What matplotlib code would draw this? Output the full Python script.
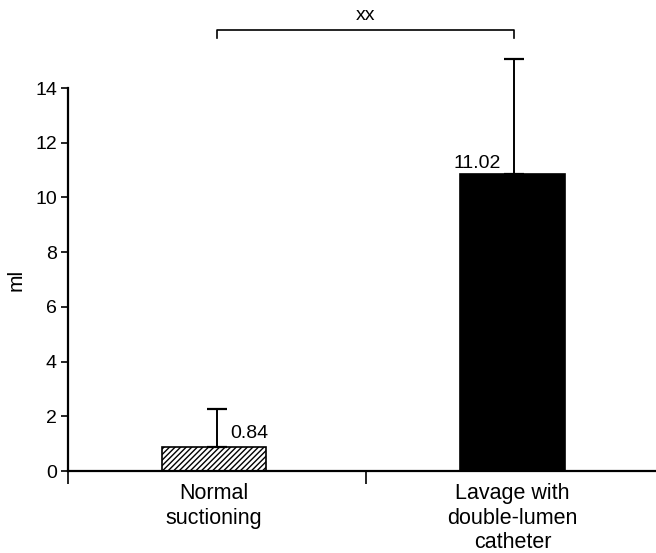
import matplotlib
matplotlib.use("Agg")
import matplotlib.pyplot as plt

categories = ["Normal\nsuctioning", "Lavage with\ndouble-lumen\ncatheter"]
means = [0.88, 10.84]
errors = [1.38, 4.23]
value_labels = ["0.84", "11.02"]
sig_label = "xx"

plt.rcParams['font.family'] = ['Liberation Sans', 'DejaVu Sans']

fig = plt.figure(figsize=(6.56, 5.53), dpi=100)
ax = fig.add_axes([68/656, 1-471/553, 1-68/656, (471-88)/553])

pos = [0.49, 1.49]
w = 0.35
ax.bar(pos[0], means[0], width=w, color='white', edgecolor='black',
       hatch='//////', linewidth=1.2, zorder=2)
ax.bar(pos[1], means[1], width=w, color='black', edgecolor='black',
       linewidth=1.2, zorder=2)
xe = [pos[0] + 0.01, pos[1] + 0.005]
for x, m, e in zip(xe, means, errors):
    ax.errorbar(x, m, yerr=[[0], [e]], fmt='none', ecolor='black',
                elinewidth=1.4, capsize=7, capthick=1.6, clip_on=False, zorder=3)

ax.text(xe[0] + 0.045, means[0] + 0.33, value_labels[0], ha='left', va='baseline', fontsize=14)
ax.text(xe[1] - 0.045, means[1] + 0.25, value_labels[1], ha='right', va='baseline', fontsize=14)

# significance bracket
yb = 16.12
ax.plot([xe[0], xe[0], xe[1], xe[1]], [yb - 0.3, yb, yb, yb - 0.3],
        color='black', lw=1.2, clip_on=False)
ax.text((xe[0] + xe[1]) / 2, 16.5, sig_label, ha='center', va='baseline', fontsize=14)

ax.set_xlim(0, 1.97)
ax.set_ylim(0, 14)
ax.set_yticks(range(0, 15, 2))
ax.set_xticks([0, 1])
ax.set_xticklabels(['', ''])
ax.tick_params(axis='y', direction='out', length=5, width=1.2, labelsize=14, pad=3)
ax.tick_params(axis='x', direction='out', length=9, width=1.2)
for x, lab in zip(pos, categories):
    ax.text(x, -0.45, lab, ha='center', va='top', fontsize=15.5, linespacing=1.2)

ax.spines['top'].set_visible(False)
ax.spines['right'].set_visible(False)
ax.spines['left'].set_linewidth(1.6)
ax.spines['bottom'].set_linewidth(1.6)
ax.set_ylabel('ml', fontsize=15, labelpad=7)

fig.savefig('out.png', dpi=100)
